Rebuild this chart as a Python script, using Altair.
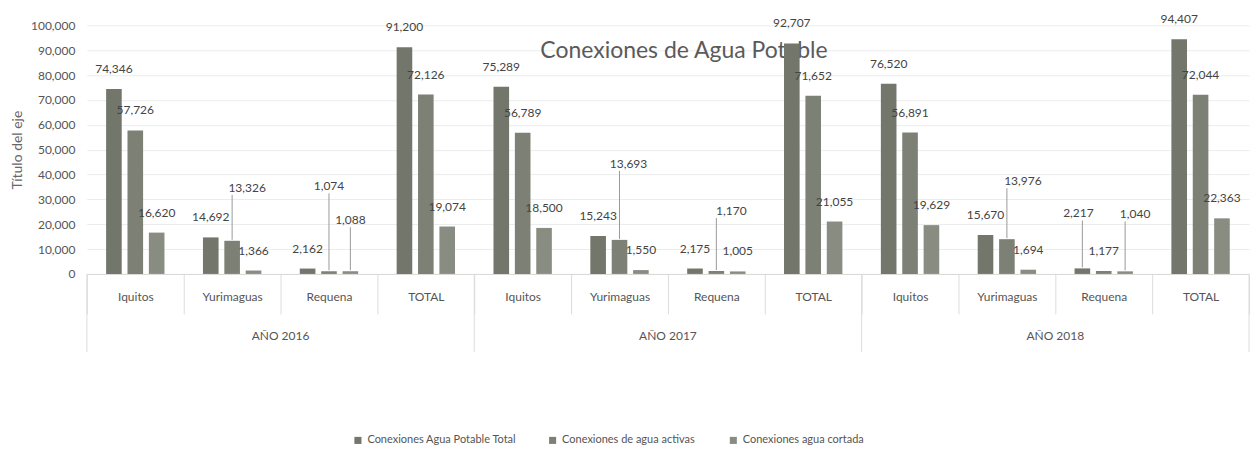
import altair as alt
import pandas as pd

# ---------------- data ----------------
years = ["AÑO 2016", "AÑO 2017", "AÑO 2018"]
places = ["Iquitos", "Yurimaguas", "Requena", "TOTAL"]
series = ["Conexiones Agua Potable Total", "Conexiones  de agua activas", "Conexiones agua cortada"]

# values in order: year-major, then place
conexiones_total = [74346, 14692, 2162, 91200, 75289, 15243, 2175, 92707, 76520, 15670, 2217, 94407]
conexiones_activas = [57726, 13326, 1074, 72126, 56789, 13693, 1170, 71652, 56891, 13976, 1177, 72044]
conexiones_cortada = [16620, 1366, 1088, 19074, 18500, 1550, 1005, 21055, 19629, 1694, 1040, 22363]

titulo = "Conexiones de Agua Potable"
titulo_eje = "Título del eje"

# ---------------- layout ----------------
W, H = 1164, 249
YMAX = 100000
unit = YMAX / H  # data units per pixel
colors = ["#72766b", "#7d8175", "#898d81"]
FONT = "Lato"
TXT = "#555555"

# label displacements (dx px, lift px above bar top) for labels Excel moved
moves = {
    ("AÑO 2016|Yurimaguas", 1): (15, 53),
    ("AÑO 2016|Requena", 1): (0, 85),
    ("AÑO 2016|Requena", 2): (0, 51),
    ("AÑO 2017|Yurimaguas", 1): (9, 76),
    ("AÑO 2017|Requena", 1): (15, 60),
    ("AÑO 2018|Yurimaguas", 1): (16, 58),
    ("AÑO 2018|Requena", 0): (-4, 55),
    ("AÑO 2018|Requena", 2): (10, 57),
}
DEFAULT_LIFT = 20

keys = [f"{y}|{p}" for y in years for p in places]
vals = [conexiones_total, conexiones_activas, conexiones_cortada]

rows = []
for i, k in enumerate(keys):
    for s, name in enumerate(series):
        v = vals[s][i]
        dx, lift = moves.get((k, s), (0, DEFAULT_LIFT))
        moved = (k, s) in moves
        rows.append({
            "key": k, "serie": name, "valor": v,
            "label_y": v + lift * unit,
            "leader_bottom": v + 1 * unit,
            "leader_top": v + (lift - 7) * unit,
            "dx": dx, "moved": moved,
        })
df = pd.DataFrame(rows)

x_axis = alt.Axis(title=None, labelExpr="split(datum.label, '|')[1]",
                  labelAngle=0, labelFont=FONT, labelFontSize=12, labelColor=TXT,
                  tickBand="extent", tickSize=40, tickColor="#dcdcdc",
                  labelPadding=-22, domainColor="#d9d9d9", labelOverlap=False)
x_scale = alt.Scale(paddingInner=0, paddingOuter=0)
xoff_scale = alt.Scale(paddingInner=0.27, paddingOuter=0.9)
y_scale = alt.Scale(domain=[0, YMAX], nice=False)
y_axis = alt.Axis(title=titulo_eje, format=",d", values=list(range(0, 100001, 10000)),
                  domain=False, ticks=False, labelPadding=12, labelOverlap=False,
                  labelFont=FONT, labelFontSize=12, labelColor=TXT,
                  titleFont=FONT, titleFontSize=14, titleColor="#666666",
                  titleFontWeight="normal", titlePadding=6,
                  gridColor="#ececec")


def X(**kw):
    return alt.X("key:N", sort=keys, scale=x_scale, axis=x_axis, **kw)


def XO():
    return alt.XOffset("serie:N", sort=series, scale=xoff_scale)


def Y(field):
    return alt.Y(field, scale=y_scale, axis=y_axis)


base = alt.Chart(df)

title_layer = alt.Chart(pd.DataFrame({"t": [titulo]})).mark_text(
    font=FONT, fontSize=23, color="#5a5a5a", align="center", baseline="middle"
).encode(text="t:N", x=alt.value(598), y=alt.value(26))

leaders = base.transform_filter(alt.datum.moved).mark_rule(color="#9a9a9a", strokeWidth=1).encode(
    x=X(),
    xOffset=XO(),
    y=Y("leader_bottom:Q"),
    y2="leader_top:Q",
)

bars = base.mark_bar().encode(
    x=X(),
    xOffset=XO(),
    y=Y("valor:Q"),
    color=alt.Color("serie:N", sort=series, scale=alt.Scale(domain=series, range=colors),
                    legend=alt.Legend(title=None, orient="none", legendX=266, legendY=410,
                                      direction="horizontal", symbolType="square",
                                      symbolSize=50, labelFont=FONT, labelFontSize=11,
                                      labelColor=TXT, columnPadding=30, labelLimit=0)),
)

label_layers = []
for d in sorted(df["dx"].unique()):
    label_layers.append(
        base.transform_filter(alt.datum.dx == int(d)).mark_text(
            dx=int(d), font=FONT, fontSize=12, color="#444444", baseline="middle"
        ).encode(
            x=X(),
            xOffset=XO(),
            y=Y("label_y:Q"),
            text=alt.Text("valor:Q", format=",d"),
        )
    )

year_df = pd.DataFrame({"key": [f"{y}|Yurimaguas" for y in years], "anio": years})
year_labels = alt.Chart(year_df).mark_text(
    font=FONT, fontSize=12, color=TXT, baseline="middle"
).encode(
    x=X(bandPosition=1),
    y=alt.value(H + 62),
    text="anio:N",
)

sep_df = pd.DataFrame({"key": [f"{y}|Iquitos" for y in years]})
year_sep = alt.Chart(sep_df).mark_rule(color="#dcdcdc").encode(
    x=X(bandPosition=0),
    y=alt.value(H), y2=alt.value(H + 78),
)
end_df = pd.DataFrame({"key": [keys[-1]]})
year_sep_end = alt.Chart(end_df).mark_rule(color="#dcdcdc").encode(
    x=X(bandPosition=1),
    y=alt.value(H), y2=alt.value(H + 78),
)

chart = alt.layer(
    title_layer, leaders, bars, *label_layers, year_labels, year_sep, year_sep_end
).properties(
    width=W, height=H,
    padding={"left": 2, "top": 4, "right": 0, "bottom": 0},
).configure_view(stroke=None)

chart.save("out.html", embed_options={"renderer": "svg", "actions": False})
